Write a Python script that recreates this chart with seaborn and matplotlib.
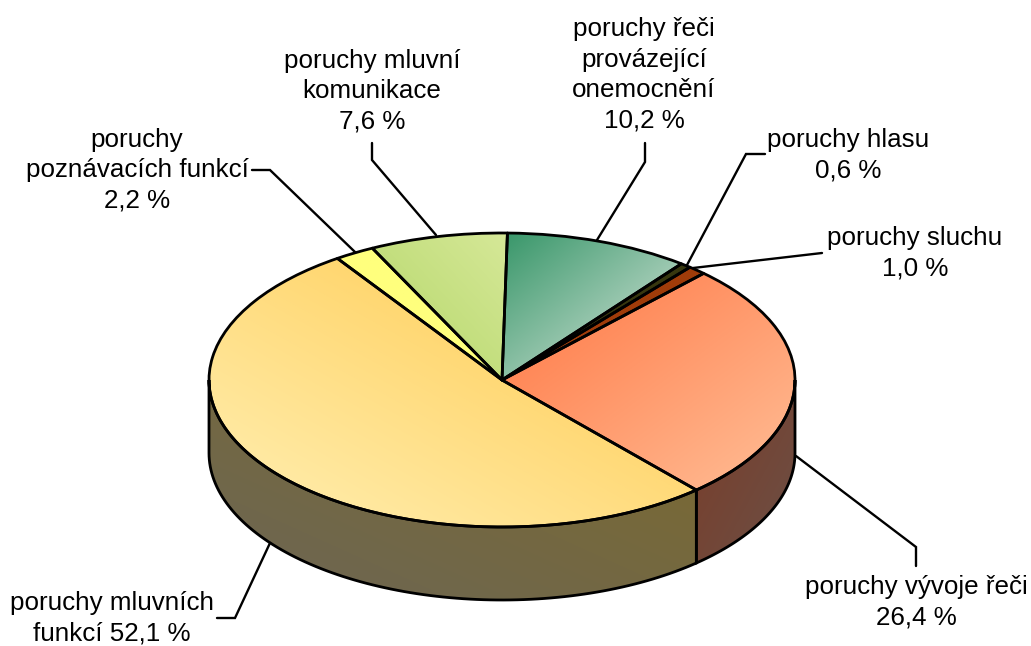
import numpy as np
import matplotlib
matplotlib.use('Agg')
import matplotlib.pyplot as plt
import seaborn as sns

# slices, clockwise from the right side of the pie
categories = ['poruchy vývoje řeči', 'poruchy mluvních funkcí', 'poruchy poznávacích funkcí',
              'poruchy mluvní komunikace', 'poruchy řeči provázející onemocnění',
              'poruchy hlasu', 'poruchy sluchu']
values = [26.4, 52.1, 2.2, 7.6, 10.2, 0.6, 1.0]
label_texts = ['poruchy vývoje řeči\n26,4 %', 'poruchy mluvních\nfunkcí 52,1 %',
               'poruchy\npoznávacích funkcí\n2,2 %', 'poruchy mluvní\nkomunikace\n7,6 %',
               'poruchy řeči\nprovázející\nonemocnění\n10,2 %', 'poruchy hlasu\n0,6 %',
               'poruchy sluchu\n1,0 %']

# top face colours: start, end, gradient direction, gradient range
top_colors = [((255, 122, 72), (255, 190, 150), (1, 1), (0.05, 1.0)),
              ((255, 212, 105), (255, 240, 180), (-1, 1), (0.3, 1.0)),
              ((255, 255, 125), (255, 255, 125), (1, 1), (0.0, 1.0)),
              ((178, 214, 102), (214, 232, 152), (1, -1), (0.0, 1.0)),
              ((55, 150, 105), (172, 208, 188), (1, 1), (0.0, 0.68)),
              ((55, 55, 15), (55, 55, 15), (1, 1), (0.0, 1.0)),
              ((160, 60, 10), (160, 60, 10), (1, 1), (0.0, 1.0))]
wall_colors = [((122, 60, 40), (108, 80, 70), (1, 1), (0.0, 1.0)),
               ((124, 106, 45), (108, 102, 85), (-1, 1), (0.0, 1.0))]

# layout in pixels of the picture
W, H = 1031, 646
CX, CY, RX, RY, DEPTH = 502, 380, 293, 147, 73
START = 46.5

label_pos = [(916, 602), (112, 618), (137, 170), (372, 91), (644, 75), (848, 155), (915, 253)]
leaders = [[(796, 456), (916, 547), (916, 566)],
           [(270, 543), (235, 618), (217, 618)],
           [(252, 170), (270, 170), (355, 252)],
           [(372, 143), (372, 160), (436, 235)],
           [(645, 143), (645, 162), (597, 240)],
           [(765, 154), (746, 154), (687, 265)],
           [(822, 253), (693, 268)]]


def to_data(px, py):
    return (px - CX) / RX, (CY - py) / RY


def gradient_fill(ax, patch, xs, ys, style):
    # linear gradient image clipped to the patch
    c0, c1, (dx, dy), (t0, t1) = style
    xmin, xmax, ymin, ymax = min(xs), max(xs), min(ys), max(ys)
    u, v = np.meshgrid(np.linspace(0, 1, 200), np.linspace(0, 1, 200))
    t = (u if dx > 0 else 1 - u) + (v if dy > 0 else 1 - v)
    t = np.clip((t / 2 - t0) / (t1 - t0), 0, 1)[..., None]
    rgb = (np.array(c0) * (1 - t) + np.array(c1) * t) / 255
    im = ax.imshow(rgb, extent=(xmin, xmax, ymin, ymax), origin='upper',
                   aspect='auto', interpolation='bilinear', zorder=1)
    im.set_clip_path(patch)


sns.set_theme(style='white')
plt.rcParams['font.family'] = ['Liberation Sans', 'DejaVu Sans']

fig = plt.figure(figsize=(W / 100, H / 100), dpi=100)
ax = fig.add_axes([0, 0, 1, 1])
LW = 2.0

wedges, _ = ax.pie(values, startangle=START, counterclock=False, radius=1, center=(0, 0),
                   normalize=True, frame=False,
                   wedgeprops={'facecolor': 'none', 'edgecolor': 'black', 'linewidth': LW,
                               'joinstyle': 'round', 'zorder': 3})

depth = DEPTH / RY
for i, wedge in enumerate(wedges):
    th = np.linspace(wedge.theta1, wedge.theta2, 100)
    xs = np.r_[0, np.cos(np.radians(th))]
    ys = np.r_[0, np.sin(np.radians(th))]
    gradient_fill(ax, wedge, xs, ys, top_colors[i])

    # side wall: part of the slice on the near half of the rim
    if i >= len(wall_colors):
        continue
    a0, a1 = wedge.theta1 % 360, wedge.theta2 % 360
    if a1 < a0:
        a0 -= 360
    low, high = (-180, 0) if a0 < 0 else (180, 360)
    th = np.radians(np.linspace(max(a0, low), min(a1, high), 100))
    wx = np.r_[np.cos(th), np.cos(th)[::-1]]
    wy = np.r_[np.sin(th), np.sin(th)[::-1] - depth]
    wall = ax.fill(wx, wy, facecolor='none', edgecolor='black', linewidth=LW, zorder=2)[0]
    gradient_fill(ax, wall, wx, wy, wall_colors[i])

for points in leaders:
    lx, ly = zip(*[to_data(*p) for p in points])
    ax.plot(lx, ly, color='black', linewidth=1.7, zorder=4, solid_joinstyle='miter')

for text, (px, py) in zip(label_texts, label_pos):
    tx, ty = to_data(px, py)
    ax.text(tx, ty, text, ha='center', va='center', fontsize=18.7, color='black',
            linespacing=1.34, zorder=5)

ax.set_aspect('auto')
ax.set_xlim(to_data(0, 0)[0], to_data(W, 0)[0])
ax.set_ylim(to_data(0, H)[1], to_data(0, 0)[1])
ax.axis('off')

fig.savefig('out.png', dpi=100)
